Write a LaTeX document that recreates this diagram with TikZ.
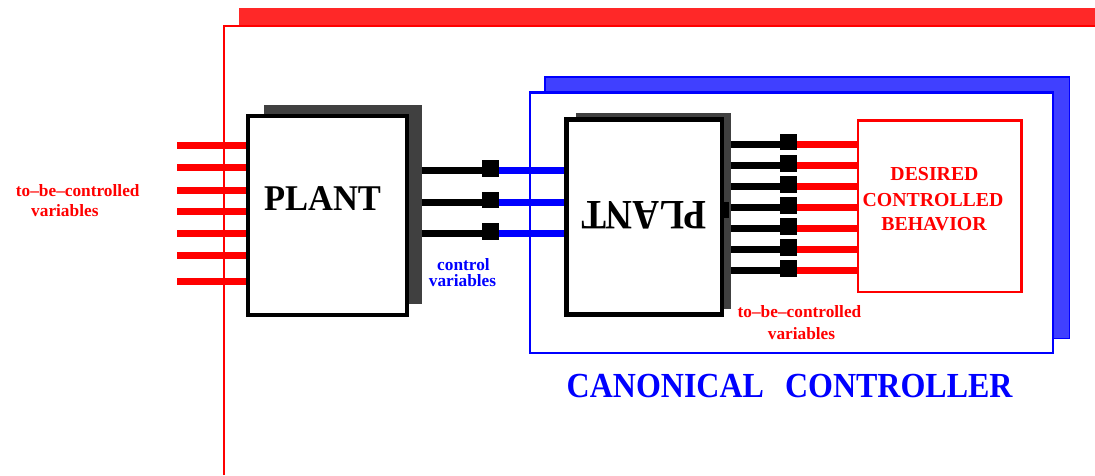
\documentclass[tikz,border=0pt]{standalone}
\usepackage{fontspec}
\setmainfont{Liberation Serif}
\definecolor{topred}{RGB}{255,40,40}
\definecolor{shgray}{RGB}{64,64,64}
\definecolor{shblue}{RGB}{64,64,255}
\begin{document}
\begin{tikzpicture}[x=1pt,y=-1pt,
  plantbox/.style={draw=black,line width=4.4pt,fill=white,inner sep=0pt},
  shadowbox/.style={fill=shgray,inner sep=0pt,outer sep=0pt},
  termsq/.style={fill=black,minimum width=17pt,minimum height=16.7pt,inner sep=0pt,outer sep=0pt,yshift=2pt},
  wire/.style={line width=7pt},
  redlbl/.style={text=red,font=\fontsize{17.3}{20}\selectfont\bfseries,inner sep=0pt},
  bluelbl/.style={text=blue,font=\fontsize{17.3}{20}\selectfont\bfseries,inner sep=0pt},
  deslbl/.style={text=red,font=\fontsize{19.8}{24}\selectfont\bfseries,inner sep=0pt,anchor=base}]
\useasboundingbox (0,0) rectangle (1095,475);

% outer red frame
\fill[topred] (239,8) rectangle (1095,26);
\coordinate (fbot) at (224,475);
\coordinate (fcorner) at (224,26.3);
\coordinate (fright) at (1095,26.3);
\draw[red,line width=2.3pt] (fbot) -- (fcorner) -- (fright);

% plant 1
\node[shadowbox,minimum width=158pt,minimum height=199pt] (plant1sh) at (343,204.5) {};
\node[plantbox,minimum width=158.6pt,minimum height=198.6pt] (plant1) at (327.5,215.5) {};
\node[anchor=base,inner sep=0pt,font=\fontsize{34.5}{40}\selectfont\bfseries] (plant1txt) at (322.5,210.7) {\scalebox{1}[1.05]{PLANT}};

% left to-be-controlled stubs
\foreach \i/\y in {1/145.3,2/167.7,3/190,4/211.7,5/233.7,6/255.7,7/281}{
  \coordinate (s\i) at (177,\y);
  \draw[wire,red] (s\i) -- (plant1.west |- s\i);
}
\node[redlbl,anchor=base west] (ltbc1) at (15.7,196) {to–be–controlled};
\node[redlbl,anchor=base west] (ltbc2) at (31,216.7) {variables};

% canonical controller frame
\draw[blue,line width=1.5pt,fill=shblue] (544.75,76.75) rectangle (1069.25,338.25);
\node[draw=blue,line width=2.3pt,fill=white,inner sep=0pt,minimum width=523pt,minimum height=260.5pt] (ctrl) at (791.5,222.75) {};

% plant 2 (mirrored)
\node[shadowbox,minimum width=155pt,minimum height=195.7pt] (plant2sh) at (653.5,211.15) {};
\node[plantbox,minimum width=155.5pt,minimum height=195pt] (plant2) at (644.25,217) {};
\fill[black] (722,202) rectangle (729,218);
\node[anchor=base,rotate=180,inner sep=0pt,font=\fontsize{37}{42}\selectfont\bfseries] (plant2txt) at (644.2,201) {\scalebox{1}[1.13]{PLANT}};

% desired behavior
\node[draw=red,line width=2.3pt,fill=white,inner sep=0pt,minimum width=163.4pt,minimum height=171.7pt] (des) at (939.85,206.3) {};
\node[deslbl] (des1) at (934.5,180) {DESIRED};
\node[deslbl] (des2) at (933,206.7) {CONTROLLED};
\node[deslbl] (des3) at (934,230.7) {BEHAVIOR};

% control variables
\foreach \i/\y in {1/170.3,2/202,3/233.3}{
  \coordinate (r\i) at (490,\y);
  \node[termsq] (c\i) at (r\i) {};
  \draw[wire,black] (plant1sh.east |- r\i) -- (c\i.west |- r\i);
  \draw[wire,blue] (c\i.east |- r\i) -- (plant2.west |- r\i);
}
\node[bluelbl,anchor=base] (cv1) at (463.5,270) {control};
\node[bluelbl,anchor=base] (cv2) at (462.5,286) {variables};

% to-be-controlled variables of plant 2
\foreach \i/\y in {1/144,2/165.3,3/186.3,4/207.3,5/228.7,6/249.7,7/270.3}{
  \coordinate (t\i) at (788.8,\y);
  \node[termsq] (d\i) at (t\i) {};
  \draw[wire,black] (plant2sh.east |- t\i) -- (d\i.west |- t\i);
  \draw[wire,red] (d\i.east |- t\i) -- (des.west |- t\i);
}
\node[redlbl,anchor=base] (rtbc1) at (799.5,317.3) {to–be–controlled};
\node[redlbl,anchor=base] (rtbc2) at (801.5,339) {variables};

\node[anchor=base west,inner sep=0pt,text=blue,font=\fontsize{32}{38}\selectfont\bfseries] (cc) at (566.5,397) {\scalebox{1}[1.1]{CANONICAL\hspace{21pt}CONTROLLER}};
\end{tikzpicture}
\end{document}
